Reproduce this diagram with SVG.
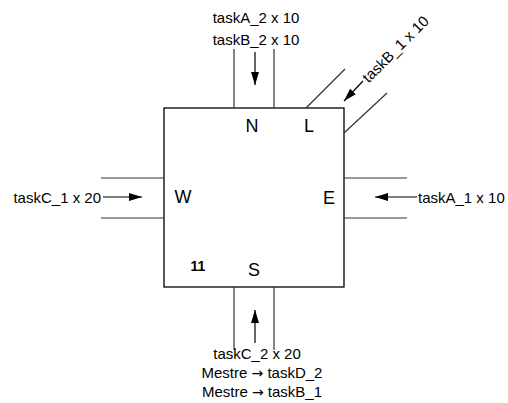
<svg xmlns="http://www.w3.org/2000/svg" width="508" height="403" viewBox="0 0 508 403">
<defs>
<marker id="ah" markerUnits="userSpaceOnUse" markerWidth="14" markerHeight="9" refX="13" refY="4" orient="auto">
<path d="M0,0 L13,4 L0,8 z" fill="#000"/>
</marker>
<style>
.t{font-family:"Liberation Sans",Arial,sans-serif;font-size:15px;fill:#000}
.arw{font-family:"DejaVu Sans",sans-serif;font-size:14px}
.lbl{font-family:"Liberation Sans",Arial,sans-serif;font-size:18px;fill:#000;text-anchor:middle}
.ch{stroke:#333;stroke-width:1.2;fill:none}
.ar{stroke:#000;stroke-width:1.2;fill:none;marker-end:url(#ah)}
</style>
</defs>
<rect width="508" height="403" fill="#fff"/>
<g id="router">
<rect x="164" y="108" width="180" height="179" fill="none" stroke="#000" stroke-width="1.3"/>
<text class="lbl" x="252" y="132">N</text>
<text class="lbl" x="309" y="132">L</text>
<text class="lbl" x="183" y="203">W</text>
<text class="lbl" x="329" y="204">E</text>
<text class="lbl" x="254" y="276">S</text>
<text x="198" y="271" text-anchor="middle" style="font-family:'Liberation Sans',Arial,sans-serif;font-size:14px;font-weight:bold">11</text>
</g>
<g id="connectors">
<line class="ch" x1="234" y1="49" x2="234" y2="108"/>
<line class="ch" x1="274" y1="49" x2="274" y2="108"/>
<line class="ch" x1="306" y1="108" x2="345" y2="69"/>
<line class="ch" x1="344" y1="133" x2="387" y2="93"/>
<line class="ch" x1="101" y1="178" x2="164" y2="178"/>
<line class="ch" x1="101" y1="218" x2="164" y2="218"/>
<line class="ch" x1="344" y1="178" x2="407" y2="178"/>
<line class="ch" x1="344" y1="218" x2="407" y2="218"/>
<line class="ch" x1="234" y1="287" x2="234" y2="350"/>
<line class="ch" x1="274" y1="287" x2="274" y2="350"/>
<line class="ar" x1="255" y1="52" x2="255" y2="85"/>
<line class="ar" x1="363" y1="81" x2="344" y2="101"/>
<line class="ar" x1="103" y1="197" x2="142" y2="197"/>
<line class="ar" x1="417" y1="197" x2="375" y2="197"/>
<line class="ar" x1="255" y1="343" x2="255" y2="310"/>
</g>
<g id="labels">
<text class="t" x="256" y="23" text-anchor="middle">taskA_2 x 10</text>
<text class="t" x="256" y="45" text-anchor="middle">taskB_2 x 10</text>
<text class="t" transform="translate(365,80) rotate(-45)" x="0" y="5">taskB_1 x 10</text>
<text class="t" x="101" y="203" text-anchor="end">taskC_1 x 20</text>
<text class="t" x="418" y="203">taskA_1 x 10</text>
<text class="t" x="257" y="359" text-anchor="middle">taskC_2 x 20</text>
<text class="t" x="262" y="378" text-anchor="middle">Mestre <tspan class="arw">→</tspan> taskD_2</text>
<text class="t" x="262" y="397" text-anchor="middle">Mestre <tspan class="arw">→</tspan> taskB_1</text>
</g>
</svg>
